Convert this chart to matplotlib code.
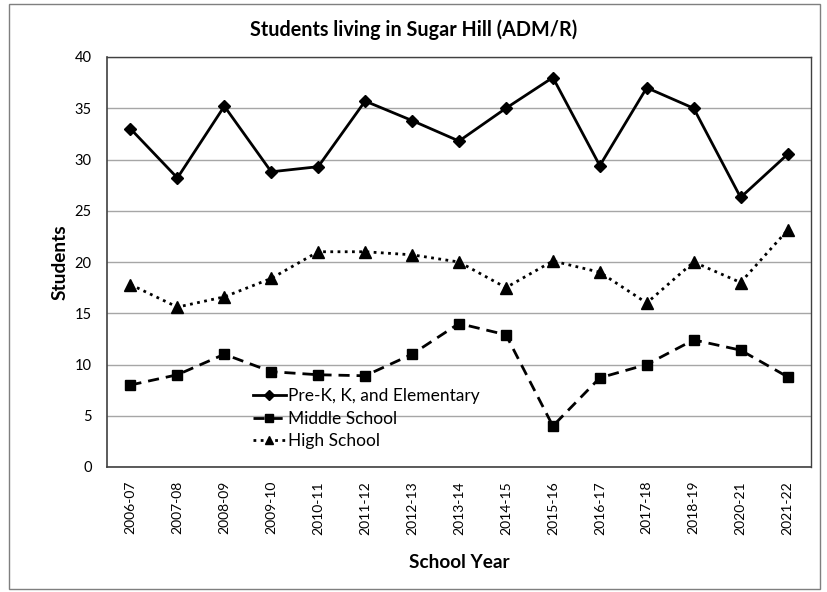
import matplotlib
matplotlib.use("Agg")
import matplotlib.pyplot as plt
from matplotlib.patches import Rectangle

plt.rcParams['font.family'] = ['Lato', 'DejaVu Sans']

years = ["2006-07", "2007-08", "2008-09", "2009-10", "2010-11", "2011-12", "2012-13",
         "2013-14", "2014-15", "2015-16", "2016-17", "2017-18", "2018-19", "2020-21", "2021-22"]
elementary = [33.0, 28.2, 35.2, 28.8, 29.3, 35.7, 33.8, 31.8, 35.0, 38.0, 29.4, 37.0, 35.0, 26.3, 30.5]
middle = [8.0, 9.0, 11.0, 9.3, 9.0, 8.9, 11.0, 14.0, 12.9, 4.0, 8.7, 10.0, 12.4, 11.4, 8.8]
high = [17.8, 15.6, 16.6, 18.4, 21.0, 21.0, 20.7, 20.0, 17.5, 20.1, 19.0, 16.0, 20.0, 18.0, 23.1]

W, H = 827, 592
fig = plt.figure(figsize=(W / 100, H / 100), dpi=100)
fig.patch.set_facecolor('white')
fig.add_artist(Rectangle((9 / W, 3 / H), 811 / W, 585 / H, transform=fig.transFigure,
                         fill=False, edgecolor='#7f7f7f', linewidth=1.0))

ax = fig.add_axes([107 / W, 1 - 467 / H, (811 - 107) / W, (467 - 57) / H])
x = list(range(len(years)))
ax.plot(x, elementary, color='black', linestyle='-', linewidth=2.0, marker='D',
        markersize=6.5, label='Pre-K, K, and Elementary')
ax.plot(x, middle, color='black', linestyle=(0, (4, 2.5)), linewidth=2.0, marker='s',
        markersize=7, label='Middle School')
ax.plot(x, high, color='black', linestyle=(0, (1, 1.6)), linewidth=2.0, marker='^',
        markersize=8, label='High School')

ax.set_xlim(-0.5, len(years) - 0.5)
ax.set_ylim(0, 40)
ax.set_yticks(range(0, 41, 5))
ax.set_xticks(x)
ax.set_xticklabels(years, rotation=90, fontsize=10)
ax.tick_params(axis='y', labelsize=10.5, length=0, pad=11)
ax.tick_params(axis='x', length=0, pad=10)
ax.grid(axis='y', color='#a6a6a6', linewidth=1.0)
ax.set_axisbelow(True)
for s in ['top', 'right']:
    ax.spines[s].set_color('#404040')
    ax.spines[s].set_linewidth(1.0)
for s in ['left', 'bottom']:
    ax.spines[s].set_color('#404040')
    ax.spines[s].set_linewidth(1.2)

ax.set_ylabel('Students', fontsize=13.7, fontweight='bold')
ax.yaxis.set_label_coords(-0.054, 0.5)
ax.set_xlabel('School Year', fontsize=13.7, fontweight='bold')
ax.xaxis.set_label_coords(0.5, -0.212)
fig.text(0.5, 1 - 30 / H, 'Students living in Sugar Hill (ADM/R)', ha='center', va='center',
         fontsize=14.2, fontweight='bold')

leg = ax.legend(loc='upper left', bbox_to_anchor=(0.208, 0.192), frameon=False,
                fontsize=12.5, handlelength=1.85, handletextpad=0.12, labelspacing=0.38,
                borderaxespad=0, borderpad=0, markerscale=0.8)

fig.savefig('out.png', dpi=100, facecolor='white')
